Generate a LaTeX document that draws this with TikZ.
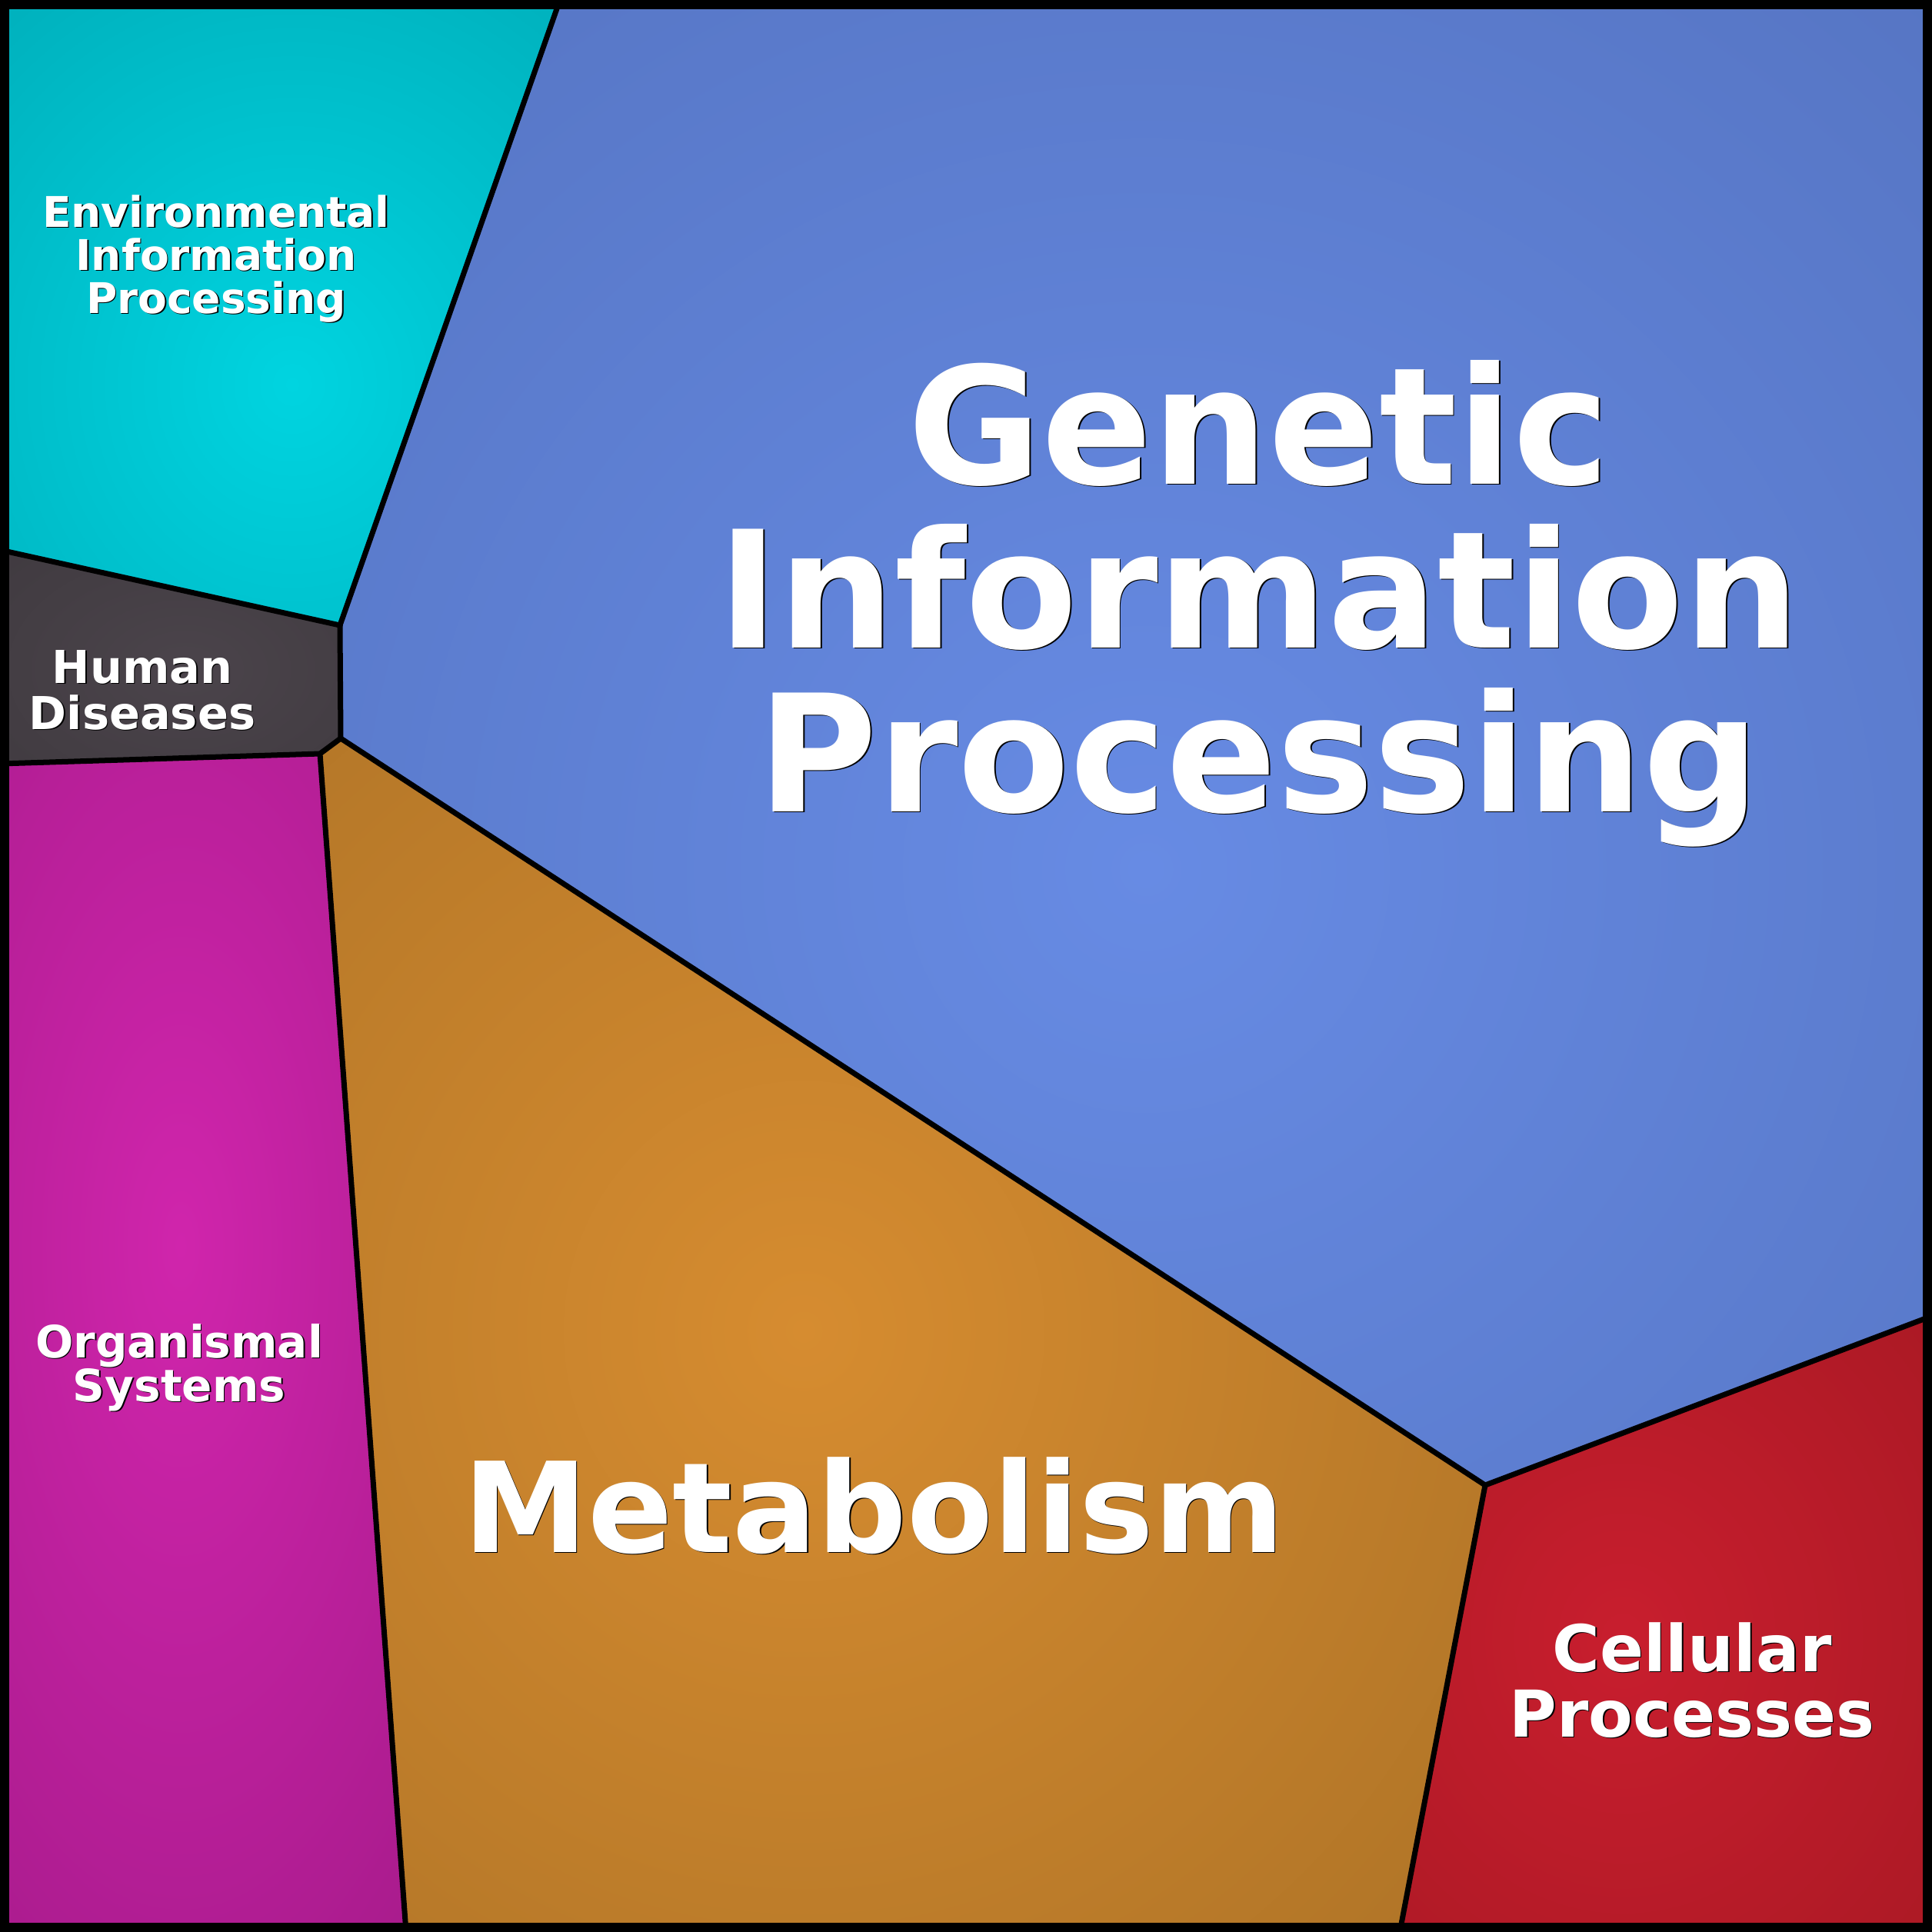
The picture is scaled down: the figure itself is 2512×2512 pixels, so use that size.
\documentclass[tikz,border=0pt]{standalone}
\usepackage{fontspec}
\setmainfont{DejaVu Sans}
\definecolor{envI}{HTML}{00D4E0}
\definecolor{envO}{HTML}{00A8B4}
\definecolor{genI}{HTML}{678BE4}
\definecolor{genO}{HTML}{5270BC}
\definecolor{humI}{HTML}{4B444B}
\definecolor{humO}{HTML}{3C373C}
\definecolor{orgI}{HTML}{D025AC}
\definecolor{orgO}{HTML}{A81B8C}
\definecolor{metI}{HTML}{D68C30}
\definecolor{metO}{HTML}{AC7226}
\definecolor{celI}{HTML}{C81E2E}
\definecolor{celO}{HTML}{A41822}
\newcommand\txtshadow[1]{\leavevmode\rlap{\kern1.6pt\raisebox{-1.6pt}{\textcolor{black}{#1}}}#1}
\newcommand\lblfont[2]{\bfseries\fontsize{#1}{#2}\selectfont\setlength{\lineskiplimit}{-500pt}}
\tikzset{
  bline/.style={line width=7pt, draw=black, line join=round, line cap=round},
  lbl/.style={anchor=base, align=center, inner sep=0pt, text=white},
}
\begin{document}
\begin{tikzpicture}[x=1pt,y=-1pt]
\useasboundingbox (0,0) rectangle (2512,2512);
\coordinate (TL) at (0,0);
\coordinate (TR) at (2512,0);
\coordinate (BR) at (2512,2512);
\coordinate (BL) at (0,2512);
\coordinate (T) at (728,0);
\coordinate (J1) at (442,813);
\coordinate (L1) at (0,715);
\coordinate (J2) at (443,960);
\coordinate (J3) at (416,980);
\coordinate (L2) at (0,993);
\coordinate (B1) at (528,2512);
\coordinate (J4) at (1931,1931);
\coordinate (B2) at (1820,2512);
\coordinate (R1) at (2512,1711);
% Environmental
\begin{scope}
\clip (TL) -- (T) -- (J1) -- (L1) -- cycle;
\fill[envO] (TL) rectangle (BR);
\shade[inner color=envI, outer color=envO] (380,500) ellipse (740 and 800);
\end{scope}
% Genetic
\begin{scope}
\clip (T) -- (TR) -- (R1) -- (J4) -- (J2) -- (J1) -- cycle;
\fill[genO] (TL) rectangle (BR);
\shade[inner color=genI, outer color=genO] (1490,1130) ellipse (1900 and 1900);
\end{scope}
% Human
\begin{scope}
\clip (L1) -- (J1) -- (J2) -- (J3) -- (L2) -- cycle;
\fill[humO] (TL) rectangle (BR);
\shade[inner color=humI, outer color=humO] (240,870) ellipse (460 and 300);
\end{scope}
% Organismal
\begin{scope}
\clip (L2) -- (J3) -- (B1) -- (BL) -- cycle;
\fill[orgO] (TL) rectangle (BR);
\shade[inner color=orgI, outer color=orgO] (235,1620) ellipse (500 and 1150);
\end{scope}
% Metabolism
\begin{scope}
\clip (J3) -- (J2) -- (J4) -- (B2) -- (B1) -- cycle;
\fill[metO] (TL) rectangle (BR);
\shade[inner color=metI, outer color=metO] (1045,1730) ellipse (1250 and 1300);
\end{scope}
% Cellular
\begin{scope}
\clip (J4) -- (R1) -- (BR) -- (B2) -- cycle;
\fill[celO] (TL) rectangle (BR);
\shade[inner color=celI, outer color=celO] (2110,2130) ellipse (680 and 780);
\end{scope}
% boundaries
\draw[bline] (T) -- (J1);
\draw[bline] (L1) -- (J1);
\draw[bline] (J1) -- (J2);
\draw[bline] (J2) -- (J3);
\draw[bline] (J3) -- (L2);
\draw[bline] (J3) -- (B1);
\draw[bline] (J2) -- (J4);
\draw[bline] (J4) -- (R1);
\draw[bline] (J4) -- (B2);
% frame
\draw[line width=12pt] (6,6) rectangle (2506,2506);
% labels (anchor base = baseline of the last line)
\node[lbl, font={\lblfont{212}{213}}] (gen) at (1637,1055)
  {\txtshadow{Genetic}\\\txtshadow{Information}\\\txtshadow{Processing}};
\node[lbl, font={\lblfont{163}{163}}] (met) at (1136,2018)
  {\txtshadow{Metabolism}};
\node[lbl, font={\lblfont{84}{85}}] (cel) at (2200,2258)
  {\txtshadow{Cellular}\\\txtshadow{Processes}};
\node[lbl, font={\lblfont{59}{60}}] (hum) at (185,948)
  {\txtshadow{Human}\\\txtshadow{Diseases}};
\node[lbl, font={\lblfont{55}{56}}] (env) at (281,407)
  {\txtshadow{Environmental}\\\txtshadow{Information}\\\txtshadow{Processing}};
\node[lbl, font={\lblfont{58}{57}}] (org) at (233,1822)
  {\txtshadow{Organismal}\\\txtshadow{Systems}};
\end{tikzpicture}
\end{document}
